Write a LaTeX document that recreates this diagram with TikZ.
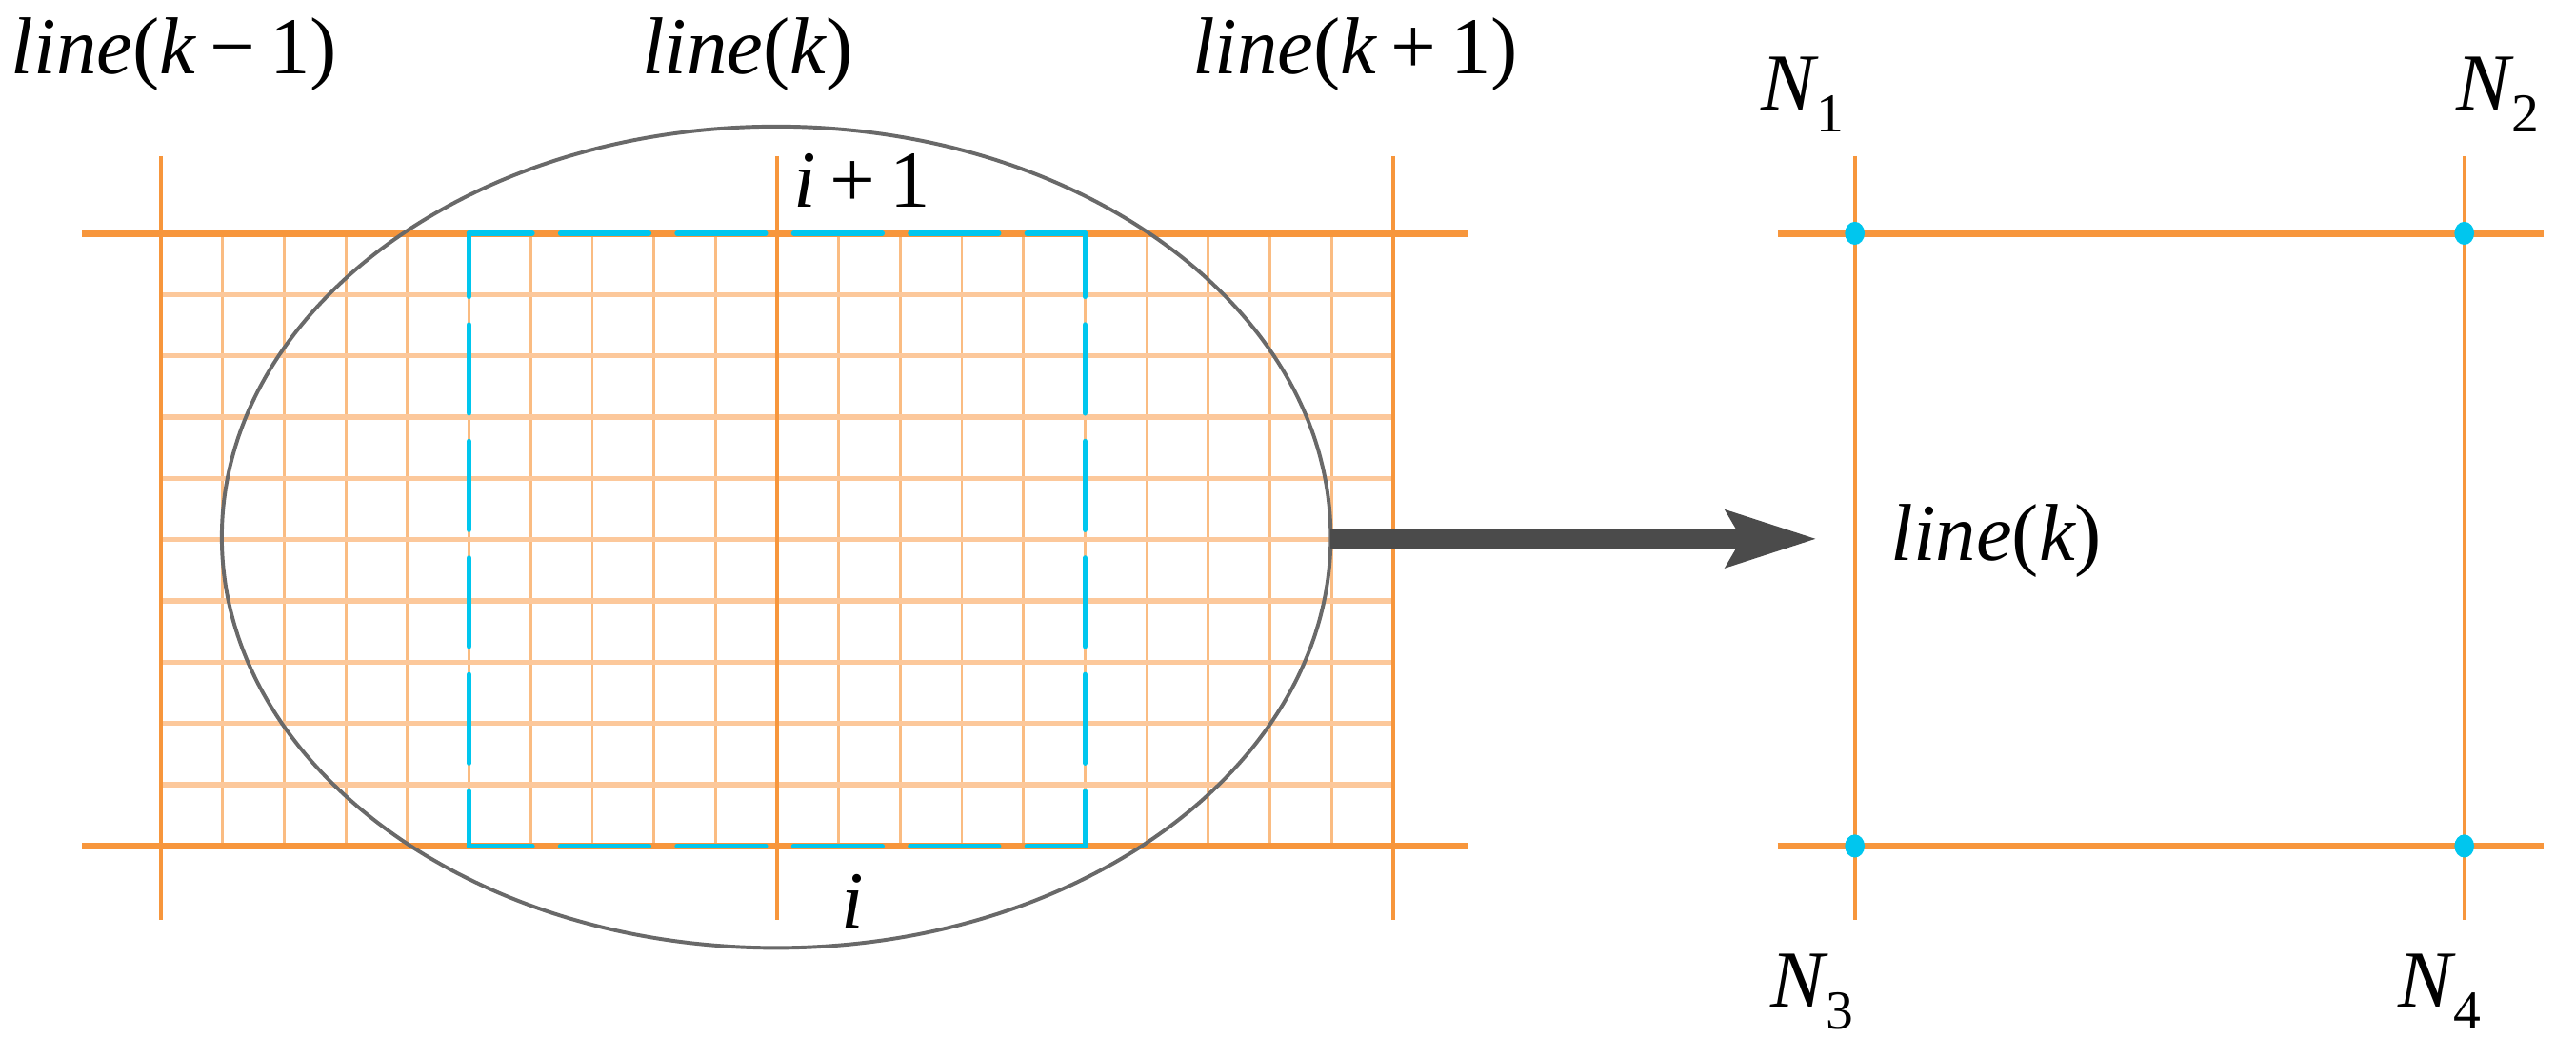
\documentclass[tikz,border=0pt]{standalone}
\usepackage{fontspec}
\newfontfamily\tms{Liberation Serif}
\usetikzlibrary{arrows.meta,shapes.geometric}
\definecolor{orM}{RGB}{247,150,60}
\definecolor{orF}{RGB}{250,188,130}
\definecolor{orH}{RGB}{252,200,155}
\definecolor{cyanB}{RGB}{0,198,238}
\definecolor{ellG}{RGB}{105,105,105}
\definecolor{arrG}{RGB}{75,75,75}
\newcommand\Lt[1]{{\tms\fontsize{28}{32}\selectfont #1}}
\newcommand\It[1]{{\tms\itshape #1}}
\newcommand\Nlab[1]{\Lt{\It{N}\kern0.5pt\raisebox{-7.5pt}{\fontsize{19}{19}\selectfont #1}}}
\newcommand\mminus{\kern5pt\char"2212\kern5pt}
\newcommand\mplus{\kern5pt+\kern5pt}
\begin{document}
\begin{tikzpicture}[x=0.02cm,y=-0.02cm,
  lab/.style={inner sep=0pt,outer sep=0pt},
  finev/.style={draw=orF,line width=0.9pt},
  fineh/.style={draw=orH,line width=1.8pt},
  thickh/.style={draw=orM,line width=2.5pt},
  mainv/.style={draw=orM,line width=1.3pt},
  cyanside/.style={draw=cyanB,line width=1.8pt,line cap=round,
     dash pattern=on 30.6pt off 9.8pt,dash phase=8.7pt},
  dotc/.style={ellipse,fill=cyanB,minimum width=12*0.02cm,minimum height=14*0.02cm,inner sep=0pt}
]
\useasboundingbox (0,0) rectangle (1568,644);
% fine grid
\foreach \j in {1,2,3,4,5,6,7,8,9,11,12,13,14,15,16,17,18,19}
  \draw[finev] ({98+\j*37.5},142) -- ({98+\j*37.5},515);
\foreach \i in {1,...,9}
  \draw[fineh] (98,{142+\i*37.3}) -- (848,{142+\i*37.3});
% thick horizontals
\draw[thickh] (50,142) -- (893,142);
\draw[thickh] (50,515) -- (893,515);
% main verticals
\foreach \x in {98,473,848}
  \draw[mainv] (\x,95) -- (\x,560);
% cyan dashed box
\draw[cyanside] (285.5,142) -- (660.5,142);
\draw[cyanside] (660.5,142) -- (660.5,515);
\draw[cyanside] (285.5,515) -- (660.5,515);
\draw[cyanside] (285.5,142) -- (285.5,515);
% ellipse
\node[ellipse,draw=ellG,line width=1.3pt,inner sep=0pt,outer sep=0pt,
  minimum width=675*0.02cm,minimum height=500*0.02cm] (ell) at (472.5,327) {};
% arrow
\coordinate (tip) at (1106,328);
\draw[arrG,line width=6.4pt,-{Stealth[length=31pt,width=19pt,inset=5pt]}] (ell.east |- tip) -- (tip);
% labels left
\node[lab,anchor=base] (lkm) at (106,45) {\Lt{\It{line}(\It{k}\mminus1)}};
\node[lab,anchor=base] (lk) at (455,45) {\Lt{\It{line}(\It{k})}};
\node[lab,anchor=base] (lkp) at (825,45) {\Lt{\It{line}(\It{k}\mplus1)}};
\node[lab,anchor=base west] (ip) at (483,126) {\Lt{\It{i}\mplus1}};
\node[lab,anchor=base] (ii) at (519,565) {\Lt{\It{i}}};
% right panel
\draw[mainv] (1129,95) -- (1129,560);
\draw[mainv] (1500,95) -- (1500,560);
\draw[thickh] (1082,142) -- (1548,142);
\draw[thickh] (1082,515) -- (1548,515);
\node[dotc] (d1) at (1129,142) {};
\node[dotc] (d2) at (1500,142) {};
\node[dotc] (d3) at (1129,515) {};
\node[dotc] (d4) at (1500,515) {};
\node[lab,anchor=base west] (lkr) at (1151,341) {\Lt{\It{line}(\It{k})}};
\node[lab,anchor=base west] (n1) at (1072,67) {\Nlab{1}};
\node[lab,anchor=base west] (n2) at (1495,67) {\Nlab{2}};
\node[lab,anchor=base west] (n3) at (1078,613) {\Nlab{3}};
\node[lab,anchor=base west] (n4) at (1460,613) {\Nlab{4}};
\end{tikzpicture}
\end{document}
